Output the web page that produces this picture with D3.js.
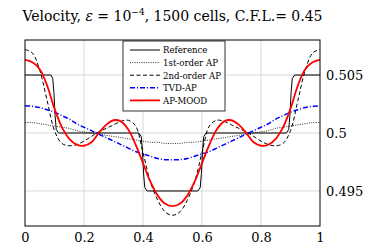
<!DOCTYPE html>
<html>
<head>
<meta charset="utf-8">
<script src="https://cdn.jsdelivr.net/npm/d3@7"></script>
<style>
  body { margin: 0; background: #fff; }
  svg text { font-family: "DejaVu Serif", "Liberation Serif", serif; fill: #000; }
</style>
</head>
<body>
<div id="chart"></div>
<script>
var svgWidth = 373;
var svgHeight = 250;

var margin = { top: 40, right: 53, bottom: 24, left: 25 };
var width = svgWidth - margin.left - margin.right;
var height = svgHeight - margin.top - margin.bottom;

// shared x grid for the computed solutions
var xs = [0, 0.025, 0.05, 0.075, 0.1, 0.125, 0.15, 0.175, 0.2, 0.225, 0.25, 0.275, 0.3, 0.325, 0.35, 0.375, 0.4, 0.425, 0.45, 0.475, 0.5,
  0.525, 0.55, 0.575, 0.6, 0.625, 0.65, 0.675, 0.7, 0.725, 0.75, 0.775, 0.8, 0.825, 0.85, 0.875, 0.9, 0.925, 0.95, 0.975, 1];

var firstOrder = [0.5009, 0.5009, 0.5008, 0.5007, 0.5006, 0.5005, 0.5004, 0.5002, 0.5001, 0.5000, 0.4999, 0.4998, 0.4997, 0.4996, 0.4995, 0.4994, 0.4993, 0.4992, 0.4992, 0.4991, 0.4991,
  0.4991, 0.4992, 0.4992, 0.4993, 0.4994, 0.4995, 0.4996, 0.4997, 0.4998, 0.4999, 0.5000, 0.5001, 0.5002, 0.5004, 0.5005, 0.5006, 0.5007, 0.5008, 0.5009, 0.5009];

var secondOrder = [0.5072, 0.5069, 0.5054, 0.5028, 0.5002, 0.4991, 0.4989, 0.4990, 0.4993, 0.4997, 0.5001, 0.5004, 0.5007, 0.5010, 0.5011, 0.5006, 0.4983, 0.4958, 0.4942, 0.4932, 0.4929,
  0.4932, 0.4942, 0.4958, 0.4983, 0.5006, 0.5011, 0.5010, 0.5007, 0.5004, 0.5001, 0.4997, 0.4993, 0.4990, 0.4989, 0.4991, 0.5002, 0.5028, 0.5054, 0.5069, 0.5072];

var tvdAP = [0.50235, 0.5023, 0.5022, 0.5020, 0.5018, 0.5015, 0.5012, 0.5008, 0.5005, 0.5002, 0.4999, 0.4996, 0.4993, 0.4990, 0.4987, 0.4984, 0.4982, 0.4980, 0.4978, 0.4977, 0.4977,
  0.4977, 0.4978, 0.4980, 0.4982, 0.4984, 0.4987, 0.4990, 0.4993, 0.4996, 0.4999, 0.5002, 0.5005, 0.5008, 0.5012, 0.5015, 0.5018, 0.5020, 0.5022, 0.5023, 0.50235];

var apMood = [0.5063, 0.5061, 0.5055, 0.5041, 0.5021, 0.5005, 0.4995, 0.4990, 0.4989, 0.4992, 0.5000, 0.5007, 0.5011, 0.5010, 0.5003, 0.4990, 0.4974, 0.4958, 0.4946, 0.4939, 0.4937,
  0.4939, 0.4946, 0.4958, 0.4974, 0.4990, 0.5003, 0.5010, 0.5011, 0.5007, 0.5000, 0.4992, 0.4989, 0.4990, 0.4995, 0.5005, 0.5021, 0.5041, 0.5055, 0.5061, 0.5063];

// exact solution (step profile)
var refX = [0, 0.088, 0.094, 0.098, 0.102, 0.106, 0.114, 0.386, 0.394, 0.398, 0.402, 0.406, 0.414,
  0.586, 0.594, 0.598, 0.602, 0.606, 0.614, 0.886, 0.894, 0.898, 0.902, 0.906, 0.914, 1];
var refY = [0.505, 0.505, 0.5047, 0.5035, 0.5015, 0.5003, 0.5, 0.5, 0.4997, 0.4985, 0.4965, 0.4953, 0.495,
  0.495, 0.4953, 0.4965, 0.4985, 0.4997, 0.5, 0.5, 0.5003, 0.5015, 0.5035, 0.5047, 0.505, 0.505];

var xTicks = [0, 0.2, 0.4, 0.6, 0.8, 1];
var xTickLabels = ["0", "0.2", "0.4", "0.6", "0.8", "1"];
var yTicks = [0.495, 0.5, 0.505];
var yTickLabels = ["0.495", "0.5", "0.505"];

var legendNames = ["Reference", "1st-order AP", "2nd-order AP", "TVD-AP", "AP-MOOD"];

var svg = d3.select("#chart")
  .append("svg")
  .attr("width", svgWidth)
  .attr("height", svgHeight);

var chartGroup = svg.append("g")
  .attr("transform", `translate(${margin.left}, ${margin.top})`);

var xScale = d3.scaleLinear().domain([0, 1]).range([0, width]);
var yScale = d3.scaleLinear().domain([0.49198, 0.50802]).range([height, 0]);

// grid
chartGroup.append("g")
  .selectAll("line")
  .data(xTicks.slice(1, -1))
  .enter()
  .append("line")
  .attr("x1", d => xScale(d)).attr("x2", d => xScale(d))
  .attr("y1", 0).attr("y2", height)
  .attr("stroke", "#cfcfcf").attr("stroke-width", 0.8);

chartGroup.append("g")
  .selectAll("line")
  .data(yTicks)
  .enter()
  .append("line")
  .attr("x1", 0).attr("x2", width)
  .attr("y1", d => yScale(d)).attr("y2", d => yScale(d))
  .attr("stroke", "#cfcfcf").attr("stroke-width", 0.8);

// axes (labels only, frame drawn separately)
var bottomAxis = d3.axisBottom(xScale).tickValues(xTicks)
  .tickFormat((d, i) => xTickLabels[i]).tickSize(0).tickPadding(7);
var rightAxis = d3.axisRight(yScale).tickValues(yTicks)
  .tickFormat((d, i) => yTickLabels[i]).tickSize(0).tickPadding(6);

var xAxis = chartGroup.append("g")
  .attr("transform", `translate(0, ${height})`)
  .call(bottomAxis);
var yAxis = chartGroup.append("g")
  .attr("transform", `translate(${width}, 0)`)
  .call(rightAxis);
[xAxis, yAxis].forEach(function(a) {
  a.select(".domain").remove();
  a.attr("font-family", null);
  a.selectAll("text").attr("font-size", "13px");
});

// clip
chartGroup.append("clipPath").attr("id", "clip")
  .append("rect").attr("width", width).attr("height", height);

var plot = chartGroup.append("g").attr("clip-path", "url(#clip)");

var line = d3.line()
  .x(d => xScale(d[0]))
  .y(d => yScale(d[1]))
  .curve(d3.curveCatmullRom);

var refLine = d3.line()
  .x(d => xScale(d[0]))
  .y(d => yScale(d[1]));

var styles = [
  { color: "#000", width: 1, dash: null },
  { color: "#000", width: 0.8, dash: "1,1.3" },
  { color: "#000", width: 1, dash: "4,2.5" },
  { color: "#0000ff", width: 1.5, dash: "5,2,1,2" },
  { color: "#ff0000", width: 1.8, dash: null }
];

plot.append("path")
  .datum(refX.map((x, i) => [x, refY[i]]))
  .attr("d", refLine)
  .attr("fill", "none")
  .attr("stroke", styles[0].color)
  .attr("stroke-width", styles[0].width);

[firstOrder, secondOrder, tvdAP, apMood].forEach(function(series, k) {
  var s = styles[k + 1];
  plot.append("path")
    .datum(xs.map((x, i) => [x, series[i]]))
    .attr("d", line)
    .attr("fill", "none")
    .attr("stroke", s.color)
    .attr("stroke-width", s.width)
    .attr("stroke-dasharray", s.dash);
});

// frame
chartGroup.append("rect")
  .attr("width", width).attr("height", height)
  .attr("fill", "none").attr("stroke", "#000").attr("stroke-width", 1);

// legend
var legend = chartGroup.append("g")
  .attr("transform", `translate(${123 - margin.left}, ${41 - margin.top})`);

legend.append("rect")
  .attr("width", 102).attr("height", 70)
  .attr("fill", "#fff").attr("stroke", "#000").attr("stroke-width", 0.8);

legendNames.forEach(function(name, i) {
  var s = styles[i];
  var y = 9 + i * 12.6;
  legend.append("line")
    .attr("x1", 7).attr("x2", 37)
    .attr("y1", y).attr("y2", y)
    .attr("stroke", s.color)
    .attr("stroke-width", s.width)
    .attr("stroke-dasharray", s.dash);
  legend.append("text")
    .attr("x", 40).attr("y", y + 3.3)
    .attr("font-size", "8.6px")
    .text(name);
});

// title
svg.append("text")
  .attr("x", margin.left + width / 2)
  .attr("y", 21)
  .attr("text-anchor", "middle")
  .attr("font-size", "14px")
  .html("Velocity, <tspan font-style='italic'>ε</tspan> = 10<tspan dy='-6' font-size='9px'>−4</tspan><tspan dy='6'>, 1500 cells, C.F.L.= 0.45</tspan>");
</script>
</body>
</html>
